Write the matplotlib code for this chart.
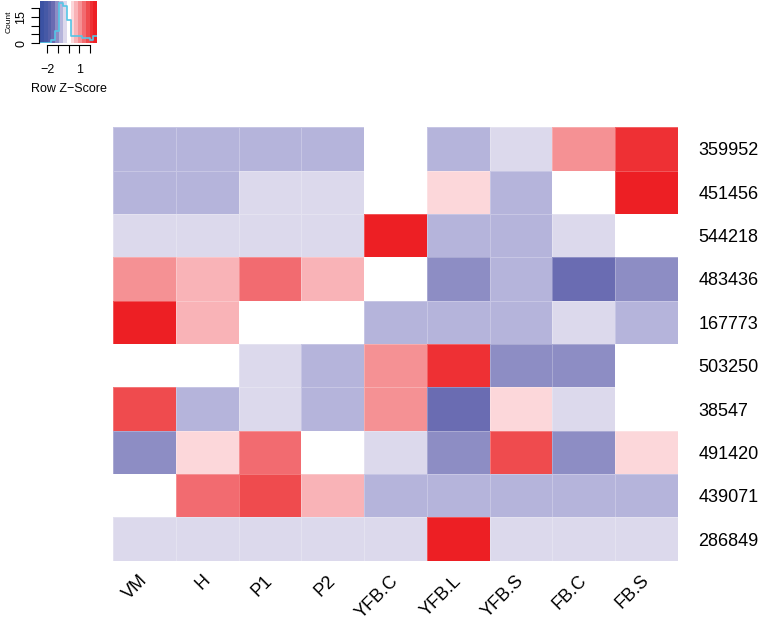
import numpy as np
import matplotlib
matplotlib.use('Agg')
import matplotlib.pyplot as plt
from matplotlib.colors import ListedColormap, BoundaryNorm

plt.rcParams['font.family'] = ['Liberation Sans', 'DejaVu Sans']

# 数据
row_labels = ['359952', '451456', '544218', '483436', '167773',
              '503250', '38547', '491420', '439071', '286849']
col_labels = ['VM', 'H', 'P1', 'P2', 'YFB.C', 'YFB.L', 'YFB.S', 'FB.C', 'FB.S']

z_scores = [
    [-0.70, -0.70, -0.70, -0.70, 0.00, -0.70, -0.35, 1.05, 2.10],
    [-0.70, -0.70, -0.35, -0.35, 0.05, 0.35, -0.70, 0.00, 2.60],
    [-0.35, -0.35, -0.35, -0.35, 2.60, -0.70, -0.70, -0.35, 0.00],
    [1.05, 0.70, 1.40, 0.70, 0.00, -1.05, -0.70, -1.45, -1.05],
    [2.55, 0.70, 0.05, 0.05, -0.70, -0.70, -0.70, -0.35, -0.70],
    [0.00, 0.00, -0.35, -0.70, 1.05, 2.15, -1.05, -1.05, 0.00],
    [1.75, -0.70, -0.35, -0.70, 1.05, -1.45, 0.35, -0.35, 0.00],
    [-1.05, 0.35, 1.40, 0.00, -0.35, -1.05, 1.75, -1.05, 0.35],
    [0.00, 1.40, 1.75, 0.70, -0.70, -0.70, -0.70, -0.70, -0.70],
    [-0.33, -0.33, -0.33, -0.33, -0.33, 2.67, -0.33, -0.33, -0.33],
]

palette = ['#3b52a3', '#4659a6', '#5560a9', '#6a6cb2', '#8d8dc4', '#b5b4db', '#dcd9ec',
           '#ffffff',
           '#fcd7da', '#f9b3b7', '#f59194', '#f26b70', '#ef4b4e', '#ee3034', '#ed1f24']

key_xticks = [-2, -1, 0, 1, 2]
key_xlabels = ['\u22122', '', '', '1', '']
key_yticks = [0, 5, 10, 15, 20]
key_ylabels = ['0', '', '', '15', '']

z = np.array(z_scores)
breaks = np.linspace(-2.67, 2.67, len(palette) + 1)
cmap = ListedColormap(palette)
norm = BoundaryNorm(breaks, cmap.N, clip=True)

W, H = 759, 620
fig = plt.figure(figsize=(W / 100, H / 100), dpi=100)

# 热图
ax = fig.add_axes([113 / W, (H - 560.7) / H, 565 / W, 433.4 / H])
ax.pcolormesh(np.arange(len(col_labels) + 1), np.arange(len(row_labels) + 1), z,
              cmap=cmap, norm=norm, edgecolor=(1, 1, 1, 0.25), linewidth=0.6)
ax.set_xlim(0, len(col_labels))
ax.set_ylim(len(row_labels), 0)
for s in ax.spines.values():
    s.set_visible(False)
ax.yaxis.tick_right()
ax.set_yticks(np.arange(len(row_labels)) + 0.5)
ax.set_yticklabels(row_labels, fontsize=13)
ax.tick_params(axis='y', length=0, pad=14.5)
ax.set_xticks(np.arange(len(col_labels)) + 0.5)
ax.set_xticklabels(col_labels, fontsize=13, rotation=45, ha='right', va='center',
                   rotation_mode='anchor')
ax.tick_params(axis='x', length=0, pad=12.5)

# 颜色键
kax = fig.add_axes([40 / W, (H - 43.3) / H, 57.3 / W, 42.8 / H])
counts, _ = np.histogram(z.ravel(), bins=breaks)
ymax = counts.max() / 0.95
kax.pcolormesh(breaks, [0, ymax], np.array([(breaks[:-1] + breaks[1:]) / 2]),
               cmap=cmap, norm=norm)
kax.step(breaks, np.append(counts, counts[-1]), where='post', color='#55c6e6', lw=1.2)
kax.set_xlim(breaks[0], breaks[-1])
kax.set_ylim(0, ymax)
kax.spines['top'].set_visible(False)
kax.spines['right'].set_visible(False)
kax.spines['left'].set_bounds(0, 20)
kax.spines['bottom'].set_bounds(-2, 2)
kax.spines['left'].set_position(('outward', 1))
kax.spines['bottom'].set_position(('outward', 1))
kax.set_xticks(key_xticks)
kax.set_xticklabels(key_xlabels, fontsize=9)
kax.set_yticks(key_yticks)
kax.set_yticklabels(key_ylabels, fontsize=9, rotation=90, va='center')
kax.tick_params(length=6, width=0.8, pad=8)
kax.tick_params(axis='y', pad=2)
kax.set_xlabel('Row Z\u2212Score', fontsize=9, labelpad=5)
kax.set_ylabel('Count', fontsize=6, labelpad=2)

plt.savefig('out.png', dpi=100, facecolor='white')
plt.close()
